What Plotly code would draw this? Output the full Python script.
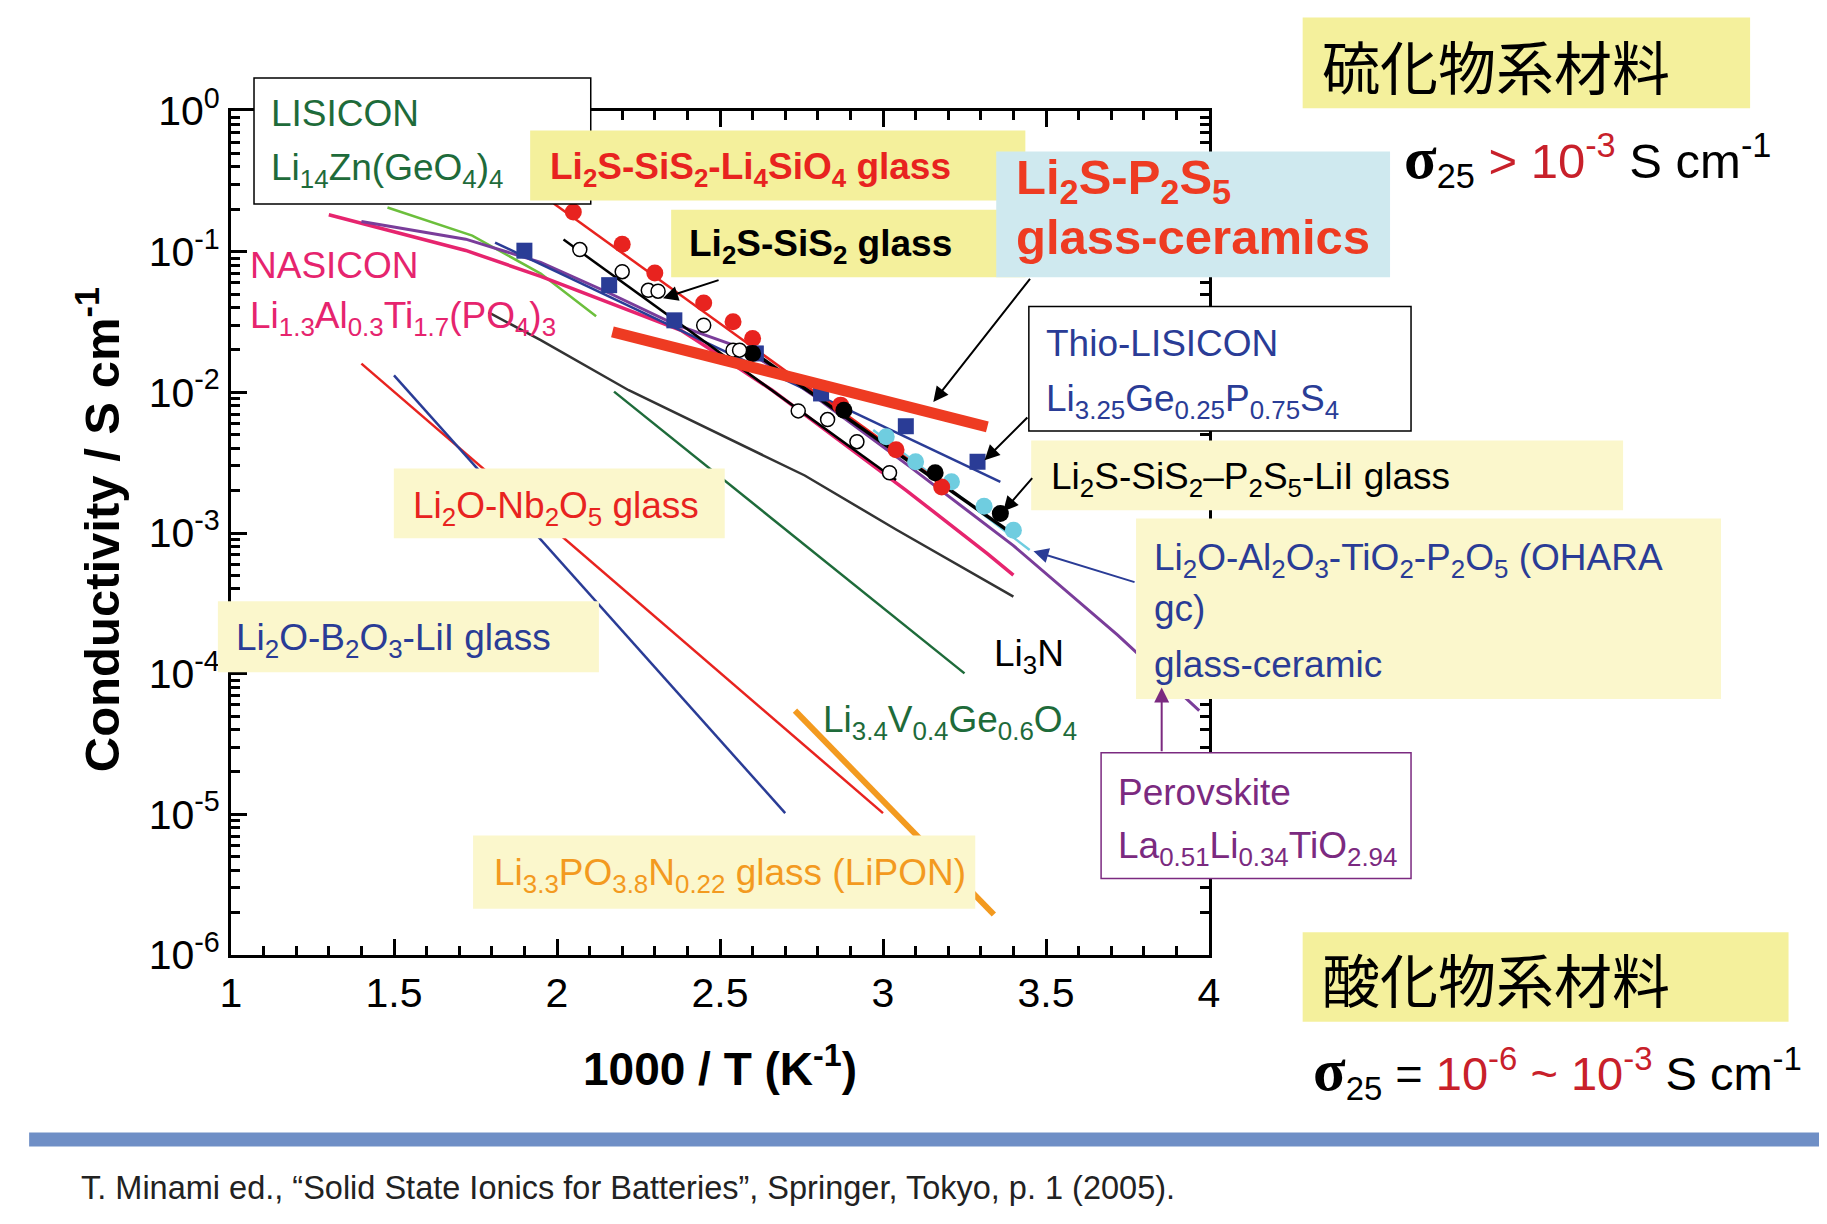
import plotly.graph_objects as go

# ---------------- data (x = 1000/T in K^-1, y = conductivity in S cm^-1) -------------
lisicon_x = [1.48, 1.74, 1.95, 2.12]
lisicon_y = [0.206, 0.130, 0.0698, 0.0348]

nasicon_x = [1.30, 1.72, 1.95, 2.38, 2.49, 2.66, 3.07, 3.32, 3.40]
nasicon_y = [0.183, 0.102, 0.0668, 0.0276, 0.0189, 0.01035, 0.00202, 7.14e-4, 5.01e-4]

ohara_x = [1.40, 1.72, 1.95, 2.15, 2.36, 2.58, 2.79, 3.08, 3.40, 3.72, 3.97]
ohara_y = [0.1637, 0.1227, 0.0839, 0.0521, 0.0305, 0.0201, 0.00938, 0.00299, 8.13e-4, 1.88e-4, 5.46e-5]

thio_line_x = [1.81, 3.36]
thio_line_y = [0.116, 0.00231]
thio_x = [1.90, 2.16, 2.36, 2.61, 2.81, 3.07, 3.29]
thio_y = [0.1016, 0.0578, 0.0325, 0.0189, 0.00982, 0.00574, 0.00321]

li4sio4_line_x = [1.99, 3.23]
li4sio4_line_y = [0.2198, 0.001854]
li4sio4_x = [2.05, 2.20, 2.30, 2.45, 2.54, 2.60, 2.87, 3.04, 3.18]
li4sio4_y = [0.1914, 0.1127, 0.0706, 0.0431, 0.0318, 0.0241, 0.00811, 0.0039, 0.00212]

sis2_line_x = [2.02, 3.04]
sis2_line_y = [0.1219, 0.002377]
sis2_x = [2.07, 2.20, 2.28, 2.31, 2.45, 2.54, 2.56, 2.74, 2.83, 2.92, 3.02]
sis2_y = [0.1035, 0.0721, 0.0531, 0.0524, 0.030, 0.01995, 0.01995, 0.00738, 0.0064, 0.00446, 0.00268]

lii_line_x = [2.58, 3.41]
lii_line_y = [0.0209, 9.4e-4]
lii_x = [2.60, 2.88, 3.16, 3.36]
lii_y = [0.0189, 0.00746, 0.00268, 0.001377]

cyan_line_x = [2.97, 3.45]
cyan_line_y = [0.0054, 7.57e-4]
cyan_x = [3.01, 3.10, 3.21, 3.31, 3.40]
cyan_y = [0.00483, 0.00321, 0.00231, 0.00155, 0.001047]

lps_x = [2.17, 3.32]
lps_y = [0.0269, 0.00568]

li3n_x = [1.79, 1.95, 2.22, 2.56, 2.76, 3.04, 3.40]
li3n_y = [0.037, 0.0235, 0.01035, 0.004335, 0.002564, 0.001059, 3.53e-4]

lvgo_x = [2.175, 3.25]
lvgo_y = [0.01012, 1.005e-4]

nb2o5_x = [1.40, 3.00]
nb2o5_y = [0.016, 1.02e-5]

b2o3_x = [1.50, 2.70]
b2o3_y = [0.0132, 1.02e-5]

lipon_x = [2.73, 3.34]
lipon_y = [5.46e-5, 1.94e-6]

x_tickvals = [1, 1.5, 2, 2.5, 3, 3.5, 4]
x_ticktext = ["1", "1.5", "2", "2.5", "3", "3.5", "4"]
y_tickvals = [1e-6, 1e-5, 1e-4, 1e-3, 1e-2, 1e-1, 1]
y_ticktext = ["10<sup>-6</sup>", "10<sup>-5</sup>", "10<sup>-4</sup>", "10<sup>-3</sup>",
              "10<sup>-2</sup>", "10<sup>-1</sup>", "10<sup>0</sup>"]

# ---------------- styling ----------------
BODY = 8                      # default page margin around the plot div
W, H = 1827 - 2 * BODY, 1224 - 2 * BODY
S = 1827 / 1568.0
L, R, T, B = 231, 1209, 111, 955          # plot area on screen
PW, PH = R - L, B - T
FONT = "Liberation Sans, Arial, sans-serif"
CJK = "Noto Sans CJK JP, Noto Sans CJK SC, sans-serif"

C_DGREEN = "#1e6b3a"
C_LGREEN = "#6cbf3c"
C_PINK = "#e6246e"
C_BLUE = "#2a3c96"
C_RED = "#e8231f"
C_ORED = "#ee3b22"
C_PURPLE = "#7a3d9a"
C_PURPLE2 = "#7b2a80"
C_CYAN = "#6fcde0"
C_GRAY = "#333333"
C_ORANGE = "#f39a1f"
Y_STRONG = "#f4f09c"
Y_LIGHT = "#fbf7cc"
C_LBLUE = "#cfe9ef"


def px(sx):
    return (sx * S - L) / PW


def py(sy):
    return (B - sy * S) / PH


fig = go.Figure()


def line(x, y, color, width):
    fig.add_trace(go.Scatter(x=x, y=y, mode="lines", line=dict(color=color, width=width),
                             showlegend=False, hoverinfo="skip"))


def pts(x, y, color, size, symbol="circle", lc=None, lw=0):
    fig.add_trace(go.Scatter(x=x, y=y, mode="markers",
                             marker=dict(color=color, size=size, symbol=symbol,
                                         line=dict(color=lc or color, width=lw)),
                             showlegend=False, hoverinfo="skip"))


line(lisicon_x, lisicon_y, C_LGREEN, 2.5)
line(li3n_x, li3n_y, C_GRAY, 2.5)
line(lvgo_x, lvgo_y, C_DGREEN, 2.5)
line(nb2o5_x, nb2o5_y, C_RED, 2.5)
line(b2o3_x, b2o3_y, C_BLUE, 2.5)
line(lipon_x, lipon_y, C_ORANGE, 6)
line(nasicon_x, nasicon_y, C_PINK, 3.5)
line(ohara_x, ohara_y, C_PURPLE, 3)
line(thio_line_x, thio_line_y, C_BLUE, 2.5)
line(cyan_line_x, cyan_line_y, C_CYAN, 2.5)
line(li4sio4_line_x, li4sio4_line_y, C_RED, 2.5)
line(sis2_line_x, sis2_line_y, "black", 2.5)
line(lii_line_x, lii_line_y, "black", 3.5)
pts(cyan_x, cyan_y, C_CYAN, 17)
pts(li4sio4_x, li4sio4_y, C_RED, 17)
pts(thio_x, thio_y, C_BLUE, 16, "square")
pts(lii_x, lii_y, "black", 17)
pts(sis2_x, sis2_y, "white", 14, "circle", "black", 1.5)
line(lps_x, lps_y, C_ORED, 11)

shapes = []
annotations = []


def box(x0, y0, x1, y1, fill, border=None, bw=1.5):
    shapes.append(dict(type="rect", xref="paper", yref="paper", layer="above",
                       x0=px(x0), x1=px(x1), y0=py(y1), y1=py(y0),
                       fillcolor=fill,
                       line=dict(color=border or fill, width=bw if border else 0)))


def text(sx, sy, t, color, size, family=FONT, xanchor="left"):
    annotations.append(dict(xref="paper", yref="paper", x=px(sx), y=py(sy), text=t,
                            showarrow=False, xanchor=xanchor, yanchor="middle",
                            font=dict(family=family, size=size, color=color)))


def arrow(hx, hy, tx, ty, color="black"):
    annotations.append(dict(xref="paper", yref="paper", x=px(hx), y=py(hy), text="",
                            showarrow=True, axref="pixel", ayref="pixel",
                            ax=(tx - hx) * S, ay=(ty - hy) * S,
                            arrowhead=2, arrowsize=1.5, arrowwidth=2, arrowcolor=color,
                            standoff=0, startstandoff=0))


# boxes
box(218, 67, 507, 175, "white", "black", 1.5)
box(455, 112, 880, 172, Y_STRONG)
box(576, 180, 880, 238, Y_STRONG)
box(855, 130, 1193, 238, C_LBLUE)
box(883, 263, 1211, 370, "white", "black", 1.5)
box(885, 378, 1393, 438, Y_LIGHT)
box(975, 445, 1477, 600, Y_LIGHT)
box(945, 646, 1211, 754, "white", C_PURPLE2, 1.5)
box(338, 402, 622, 462, Y_LIGHT)
box(187, 516, 514, 577, Y_LIGHT)
box(406, 717, 837, 780, Y_LIGHT)
box(1118, 15, 1502, 93, Y_STRONG)
box(1118, 800, 1535, 877, Y_STRONG)
box(25, 972, 1565, 984, "#6f8fc6")

# labels
FS = 37
text(231, 97, "LISICON", C_DGREEN, FS)
text(231, 146, "Li<sub>14</sub>Zn(GeO<sub>4</sub>)<sub>4</sub>", C_DGREEN, FS)
text(470, 145, "<b>Li<sub>2</sub>S-SiS<sub>2</sub>-Li<sub>4</sub>SiO<sub>4</sub> glass</b>", C_RED, FS)
text(590, 211, "<b>Li<sub>2</sub>S-SiS<sub>2</sub> glass</b>", "black", FS)
text(870, 155, "<b>Li<sub>2</sub>S-P<sub>2</sub>S<sub>5</sub></b>", C_ORED, 49)
text(870, 203, "<b>glass-ceramics</b>", C_ORED, 49)
text(213, 228, "NASICON", C_PINK, FS)
text(213, 273, "Li<sub>1.3</sub>Al<sub>0.3</sub>Ti<sub>1.7</sub>(PO<sub>4</sub>)<sub>3</sub>", C_PINK, FS)
text(896, 295, "Thio-LISICON", C_BLUE, FS)
text(896, 344, "Li<sub>3.25</sub>Ge<sub>0.25</sub>P<sub>0.75</sub>S<sub>4</sub>", C_BLUE, FS)
text(900, 411, "Li<sub>2</sub>S-SiS<sub>2</sub>–P<sub>2</sub>S<sub>5</sub>-LiI glass", "black", FS)
text(989, 481, "Li<sub>2</sub>O-Al<sub>2</sub>O<sub>3</sub>-TiO<sub>2</sub>-P<sub>2</sub>O<sub>5</sub> (OHARA", C_BLUE, FS)
text(989, 522, "gc)", C_BLUE, FS)
text(989, 570, "glass-ceramic", C_BLUE, FS)
text(958, 680, "Perovskite", C_PURPLE2, FS)
text(958, 728, "La<sub>0.51</sub>Li<sub>0.34</sub>TiO<sub>2.94</sub>", C_PURPLE2, FS)
text(851, 563, "Li<sub>3</sub>N", "black", FS)
text(705, 620, "Li<sub>3.4</sub>V<sub>0.4</sub>Ge<sub>0.6</sub>O<sub>4</sub>", C_DGREEN, FS)
text(353, 436, "Li<sub>2</sub>O-Nb<sub>2</sub>O<sub>5</sub> glass", C_RED, FS)
text(201, 549, "Li<sub>2</sub>O-B<sub>2</sub>O<sub>3</sub>-LiI glass", C_BLUE, FS)
text(422, 751, "Li<sub>3.3</sub>PO<sub>3.8</sub>N<sub>0.22</sub> glass (LiPON)", C_ORANGE, FS)

text(1133, 56, "硫化物系材料", "black", 58, CJK)
text(1133, 839, "酸化物系材料", "black", 58, CJK)
SIG = "<span style='font-family:Liberation Serif;font-size:60px'><b>σ</b></span>"
text(1203, 137, SIG + "<sub>25</sub> <span style='color:#c8202a'>&gt; 10<sup>-3</sup></span> S cm<sup>-1</sup>",
     "black", 49)
text(1125, 920, SIG + "<sub>25</sub> = <span style='color:#c8202a'>10<sup>-6</sup> ~ 10<sup>-3</sup></span> S cm<sup>-1</sup>",
     "black", 47)
text(68, 1020, "T. Minami ed., “Solid State Ionics for Batteries”, Springer, Tokyo, p. 1 (2005).",
     "#222222", 32.5)

# axis titles
annotations.append(dict(xref="paper", yref="paper", x=px(618), y=py(915), text="<b>1000 / T (K<sup>-1</sup>)</b>",
                        showarrow=False, xanchor="center", yanchor="middle",
                        font=dict(family=FONT, size=46, color="black")))
annotations.append(dict(xref="paper", yref="paper", x=px(85), y=py(455), text="<b>Conductivity / S cm<sup>-1</sup></b>",
                        showarrow=False, xanchor="center", yanchor="middle", textangle=-90,
                        font=dict(family=FONT, size=49, color="black")))

# arrows
arrow(569, 256, 618, 240)
arrow(801, 345, 885, 238)
arrow(845, 395, 883, 357)
arrow(861, 439, 887, 409)
arrow(887, 473, 975, 500, C_BLUE)
arrow(997, 590, 997, 646, C_PURPLE2)

axis_common = dict(showline=True, linecolor="black", linewidth=3, mirror="allticks",
                   ticks="inside", ticklen=16, tickwidth=3, tickcolor="black",
                   showgrid=False, zeroline=False,
                   tickfont=dict(family=FONT, size=41, color="black"))

fig.update_xaxes(range=[1, 4], tickvals=x_tickvals, ticktext=x_ticktext,
                 minor=dict(ticks="inside", ticklen=9, tickwidth=2.5, dtick=0.1, tickcolor="black"),
                 **axis_common)
fig.update_yaxes(type="log", range=[-6, 0], tickvals=y_tickvals, ticktext=y_ticktext,
                 minor=dict(ticks="inside", ticklen=9, tickwidth=2.5, dtick="D1", tickcolor="black"),
                 **axis_common)

fig.update_layout(width=W, height=H, autosize=False,
                  margin=dict(l=L - BODY, r=W - (R - BODY), t=T - BODY, b=H - (B - BODY)),
                  paper_bgcolor="white", plot_bgcolor="white",
                  shapes=shapes, annotations=annotations, showlegend=False,
                  font=dict(family=FONT))

fig.write_html("out.html")
